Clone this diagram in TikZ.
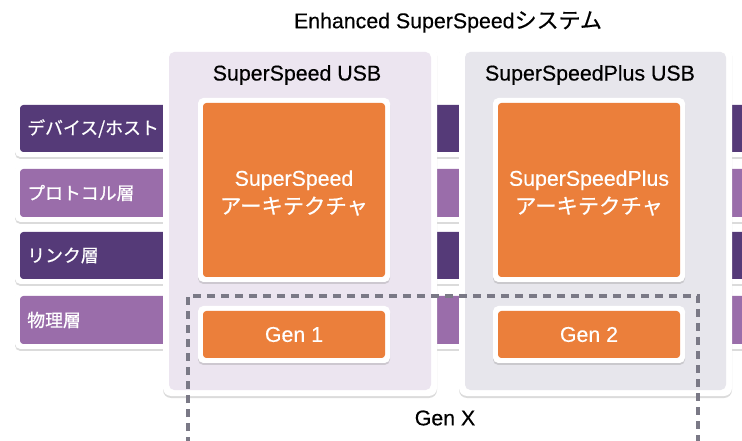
\documentclass[tikz,border=0pt]{standalone}
\usepackage{fontspec}
\setmainfont{Liberation Sans}[FakeBold=0.4]
\newfontfamily\jp{Noto Sans CJK JP}[FakeBold=0.6]
\usetikzlibrary{shadows,fit}
\definecolor{dpurple}{HTML}{553A78}
\definecolor{lpurple}{HTML}{9A6DAA}
\definecolor{uorange}{HTML}{EB7F3B}
\definecolor{panelA}{HTML}{ECE5F0}
\definecolor{panelB}{HTML}{E7E6EC}
\definecolor{dashgray}{HTML}{7A7986}
\begin{document}
\begin{tikzpicture}[x=0.75pt,y=-0.75pt,
  shell/.style={fill=white, draw=none, rounded corners=4pt, inner sep=0pt,
    drop shadow={opacity=0.28, shadow xshift=0pt, shadow yshift=-1.5pt}},
  core/.style={draw=none, inner sep=0pt, rounded corners=2.5pt},
  lbl/.style={text=white, anchor=west, inner sep=0pt, font=\fontsize{13.4}{16}\selectfont\jp},
  ttl/.style={text=black, inner sep=0pt, font=\fontsize{16}{19}\selectfont},
  otxt/.style={text=white, inner sep=0pt, align=center, font=\fontsize{16}{21}\selectfont},
  gx/.style={draw=dashgray, line width=2.6pt, dash pattern=on 6pt off 4.5pt}]
\clip (0,0) rectangle (742,441);
\fill[white] (0,0) rectangle (742,441);

% layer bands
\node[shell, fit={(15,100) (780,157)}] (b1s) {};
\node[core, fill=dpurple, fit={(20,105) (780,152)}] (b1) {};
\node[shell, fit={(15,164) (780,222)}] (b2s) {};
\node[core, fill=lpurple, fit={(20,169) (780,217)}] (b2) {};
\node[shell, fit={(15,227) (780,284)}] (b3s) {};
\node[core, fill=dpurple, fit={(20,232) (780,279)}] (b3) {};
\node[shell, fit={(15,291) (780,349)}] (b4s) {};
\node[core, fill=lpurple, fit={(20,296) (780,344)}] (b4) {};
\node[lbl] (l1) at (27,128.5) {デバイス/ホスト};
\node[lbl] (l2) at (27,193) {プロトコル層};
\node[lbl] (l3) at (27,255.5) {リンク層};
\node[lbl] (l4) at (27,320) {物理層};

% panels
\node[shell, rounded corners=6pt, fit={(163,46) (437,396)}] (p1s) {};
\node[core, rounded corners=4pt, fill=panelA, fit={(169,52) (431,390)}] (p1) {};
\node[shell, rounded corners=6pt, fit={(459,46) (732,396)}] (p2s) {};
\node[core, rounded corners=4pt, fill=panelB, fit={(465,52) (726,390)}] (p2) {};

% titles
\node[ttl] (title) at (448,22) {Enhanced SuperSpeed{\jp\fontsize{16.5}{19}\selectfont システム}};
\node[ttl] (t1) at (297,75) {SuperSpeed USB};
\node[ttl] (t2) at (590,75) {SuperSpeedPlus USB};

% architecture boxes
\node[shell, fit={(198,98) (390,282)}] (a1s) {};
\node[core, fill=uorange, fit={(203,103) (385,277)}] (a1) {};
\node[otxt] (a1t) at (294,193) {SuperSpeed\\{\jp アーキテクチャ}};
\node[shell, fit={(493,98) (685,282)}] (a2s) {};
\node[core, fill=uorange, fit={(498,103) (680,277)}] (a2) {};
\node[otxt] (a2t) at (589,193) {SuperSpeedPlus\\{\jp アーキテクチャ}};

% Gen X dashed frame
\coordinate (gxa) at (188,445);
\coordinate (gxb) at (188,296);
\coordinate (gxc) at (698,296);
\coordinate (gxd) at (698,445);
\draw[gx] (gxa) -- (gxb) -- (gxc) -- (gxd);
\node[ttl] (gxt) at (445,418) {Gen X};

% gen boxes
\node[shell, fit={(198,306) (390,363)}] (g1s) {};
\node[core, fill=uorange, fit={(203,311) (385,358)}] (g1) {};
\node[otxt] (g1t) at (g1) {Gen 1};
\node[shell, fit={(493,306) (685,363)}] (g2s) {};
\node[core, fill=uorange, fit={(498,311) (680,358)}] (g2) {};
\node[otxt] (g2t) at (g2) {Gen 2};
\end{tikzpicture}
\end{document}
